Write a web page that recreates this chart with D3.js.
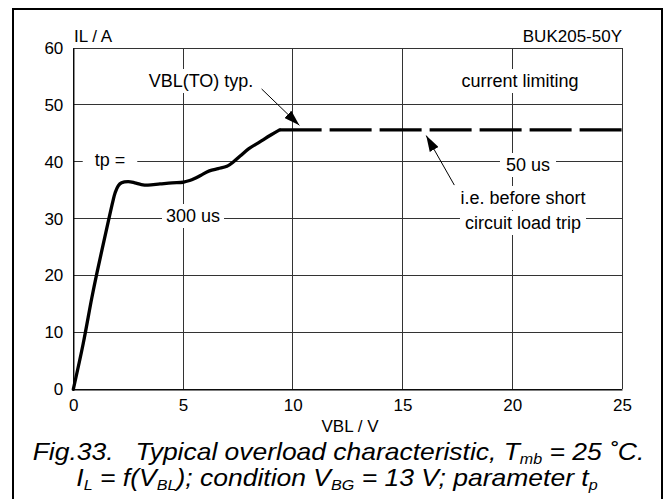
<!DOCTYPE html>
<html>
<head>
<meta charset="utf-8">
<script src="https://cdn.jsdelivr.net/npm/d3@7"></script>
<style>
  html, body { margin: 0; padding: 0; background: #fff; }
  text { font-family: "Liberation Sans", Arial, sans-serif; fill: #000; }
</style>
</head>
<body>
<svg id="chart" width="665" height="499"></svg>
<script>
// ---- data ----
const xTicks = [0, 5, 10, 15, 20, 25];
const yTicks = [0, 10, 20, 30, 40, 50, 60];
// measured overload characteristic (solid part)
const curveV = [0, 0.45, 0.84, 1.08, 1.6, 1.8, 1.91, 2.05, 2.2, 2.5, 2.8, 3.1, 3.4, 3.95, 4.5, 5.0, 5.3, 5.5, 5.8, 6.2, 6.6, 7.0, 7.3, 7.6, 8.0, 8.5, 9.0, 9.4];
const curveI = [0, 8, 16, 20.5, 29.6, 33, 34.6, 35.8, 36.3, 36.5, 36.3, 36.0, 35.9, 36.1, 36.3, 36.4, 36.7, 37.0, 37.6, 38.4, 38.8, 39.2, 40.0, 41.0, 42.3, 43.5, 44.7, 45.6];
// current limiting level (dashed part)
const limitV = [9.4, 25];
const limitI = [45.6, 45.6];

const svg = d3.select("#chart");
const x = d3.scaleLinear().domain([0, 25]).range([73.3, 622]);
const y = d3.scaleLinear().domain([0, 60]).range([389.3, 48]);

// outer frame
svg.append("rect").attr("x", 13).attr("y", 9).attr("width", 649).attr("height", 520)
  .attr("fill", "none").attr("stroke", "#000").attr("stroke-width", 2);

// grid
const grid = svg.append("g").attr("stroke", "#333").attr("stroke-width", 1).attr("shape-rendering", "crispEdges");
xTicks.forEach(t => grid.append("line").attr("x1", x(t)).attr("x2", x(t)).attr("y1", y(0)).attr("y2", y(60)));
yTicks.forEach(t => grid.append("line").attr("x1", x(0)).attr("x2", x(25)).attr("y1", y(t)).attr("y2", y(t)));

// axes
const xAxis = d3.axisBottom(x).tickValues(xTicks).tickSize(0).tickPadding(10);
const yAxis = d3.axisLeft(y).tickValues(yTicks).tickSize(0).tickPadding(10);
const gx = svg.append("g").attr("transform", `translate(0,${y(0)})`).call(xAxis);
const gy = svg.append("g").attr("transform", `translate(${x(0)},0)`).call(yAxis);
[gx, gy].forEach(g => {
  g.select(".domain").attr("stroke", "#000").attr("stroke-width", 1.3);
  g.selectAll("text").attr("font-size", 17).attr("font-family", "Liberation Sans, Arial, sans-serif").attr("fill", "#000");
});

// annotation texts with white background
const annots = [
  {t: "VBL(TO) typ.", cx: 201, by: 87, pad: 3},
  {t: "current limiting", cx: 520, by: 87, pad: 4},
  {t: "tp =", cx: 110, by: 166, pad: 12},
  {t: "300 us", cx: 193, by: 222, pad: 4},
  {t: "50 us", cx: 528, by: 171, pad: 6},
  {t: "i.e. before short", cx: 523, by: 204, pad: 5},
  {t: "circuit load trip", cx: 523, by: 229, pad: 5}
];
const ag = svg.append("g");
annots.forEach(a => {
  const g = ag.append("g");
  const r = g.append("rect").attr("fill", "#fff");
  const tx = g.append("text").attr("x", a.cx).attr("y", a.by).attr("text-anchor", "middle")
    .attr("font-size", 18).text(a.t);
  const bb = tx.node().getBBox();
  r.attr("x", bb.x - a.pad).attr("y", bb.y - 2).attr("width", bb.width + 2 * a.pad).attr("height", bb.height + 4);
});

// curve
const line = d3.line().x(d => x(d[0])).y(d => y(d[1])).curve(d3.curveCatmullRom.alpha(0.5));
svg.append("path").datum(d3.zip(curveV, curveI)).attr("d", line)
  .attr("fill", "none").attr("stroke", "#000").attr("stroke-width", 3.3).attr("stroke-linejoin", "round").attr("stroke-linecap", "round");
svg.append("path").datum(d3.zip(limitV, limitI)).attr("d", d3.line().x(d => x(d[0])).y(d => y(d[1])))
  .attr("fill", "none").attr("stroke", "#000").attr("stroke-width", 3.3).attr("stroke-dasharray", "42,8");

// arrows
const defs = svg.append("defs");
defs.append("marker").attr("id", "ah").attr("viewBox", "0 0 16 10").attr("refX", 16).attr("refY", 5)
  .attr("markerWidth", 16).attr("markerHeight", 10).attr("markerUnits", "userSpaceOnUse").attr("orient", "auto")
  .append("path").attr("d", "M0,0 L16,5 L0,10 Z").attr("fill", "#000");
const arrows = [
  {x1: 8.58, y1: 52.8, x2: 10.3, y2: 46.4},
  {x1: 17.36, y1: 35.9, x2: 16.08, y2: 44.6}
];
arrows.forEach(a => svg.append("line").attr("x1", x(a.x1)).attr("y1", y(a.y1)).attr("x2", x(a.x2)).attr("y2", y(a.y2))
  .attr("stroke", "#000").attr("stroke-width", 1).attr("marker-end", "url(#ah)"));

// axis titles
svg.append("text").attr("x", 74).attr("y", 42).attr("font-size", 17).text("IL / A");
svg.append("text").attr("x", 622).attr("y", 42).attr("font-size", 17).attr("text-anchor", "end").text("BUK205-50Y");
svg.append("text").attr("x", 350).attr("y", 432).attr("font-size", 17).attr("text-anchor", "middle").text("VBL / V");

// caption
const cap = svg.append("g").attr("font-style", "italic").attr("font-size", 23);
const l1 = cap.append("text").attr("x", 338.5).attr("y", 460).attr("text-anchor", "middle").attr("style", "white-space:pre");
l1.append("tspan").text("Fig.33.   Typical overload characteristic, T");
l1.append("tspan").attr("font-size", 14).attr("dy", 4).text("mb");
l1.append("tspan").attr("dy", -4).text(" = 25 \u02DAC.");
const l2 = cap.append("text").attr("x", 337).attr("y", 486).attr("text-anchor", "middle").attr("style", "white-space:pre");
l2.append("tspan").text("I");
l2.append("tspan").attr("font-size", 14).attr("dy", 4).text("L");
l2.append("tspan").attr("dy", -4).text(" = f(V");
l2.append("tspan").attr("font-size", 14).attr("dy", 4).text("BL");
l2.append("tspan").attr("dy", -4).text("); condition V");
l2.append("tspan").attr("font-size", 14).attr("dy", 4).text("BG");
l2.append("tspan").attr("dy", -4).text(" = 13 V; parameter t");
l2.append("tspan").attr("font-size", 14).attr("dy", 4).text("p");
// stretch lines horizontally to the reference widths
[[l1, 338.5, 612], [l2, 337, 522]].forEach(([t, cx, w]) => {
  const nat = t.node().getBBox().width;
  const s = w / nat;
  t.attr("transform", `translate(${cx},0) scale(${s},1) translate(${-cx},0)`);
});
</script>
</body>
</html>
